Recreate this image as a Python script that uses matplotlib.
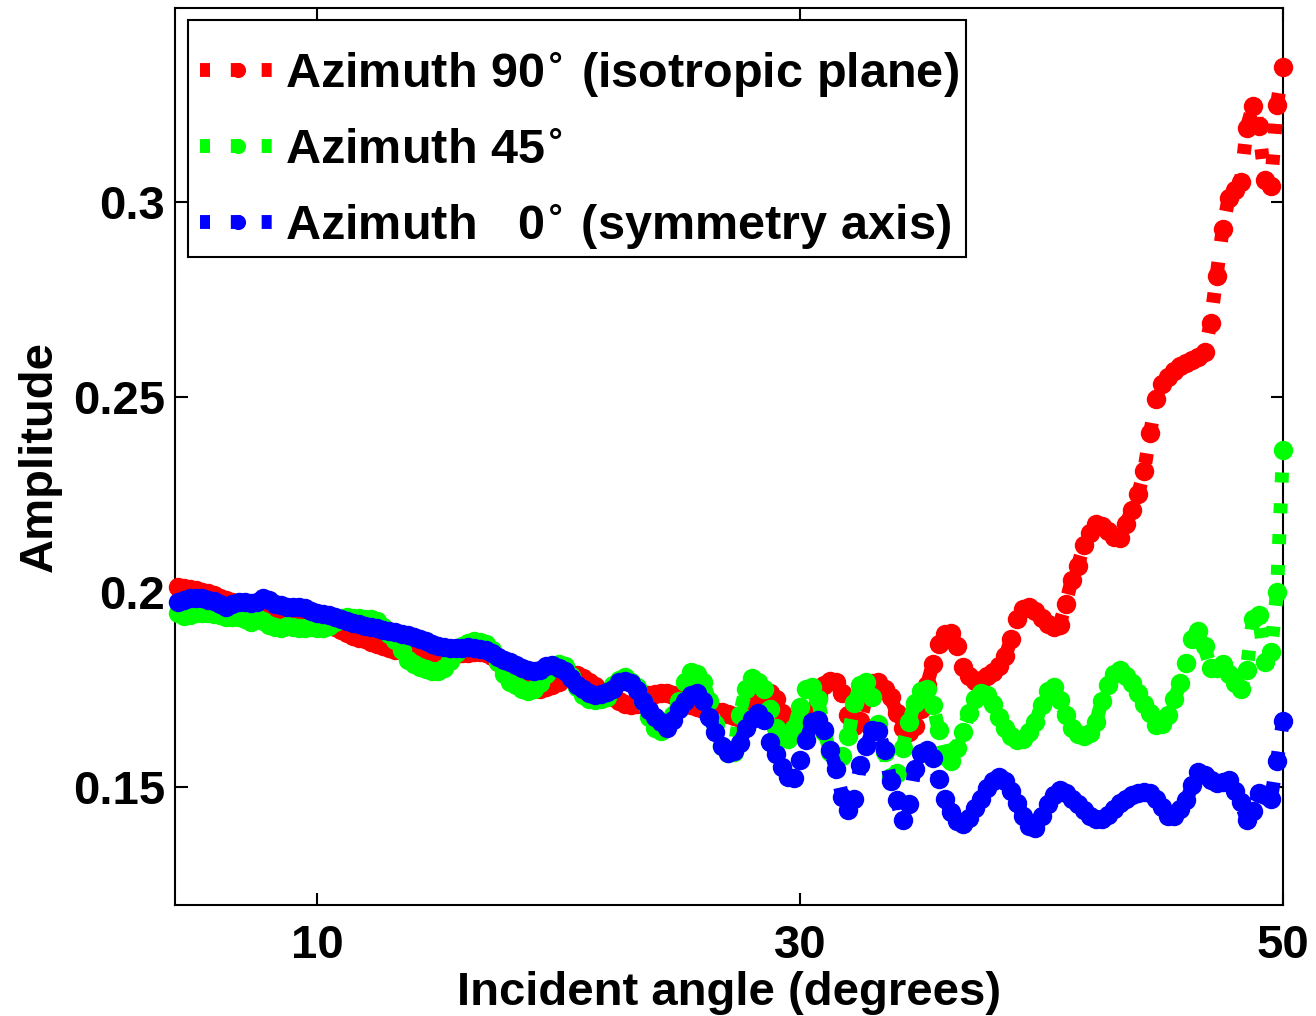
import numpy as np
import matplotlib
matplotlib.use('Agg')
import matplotlib.pyplot as plt
from matplotlib.patches import Rectangle

# ===== 数据 (从图中读取, 入射角步长 0.25 度) =====
angle = np.arange(4.25, 50.001, 0.25)

amp_az90 = [
    0.2012, 0.2010, 0.2008, 0.2005, 0.2000, 0.1996, 0.1992, 0.1985,
    0.1980, 0.1975, 0.1972, 0.1968, 0.1965, 0.1960, 0.1955, 0.1950,
    0.1945, 0.1942, 0.1940, 0.1940, 0.1940, 0.1938, 0.1935, 0.1932,
    0.1925, 0.1918, 0.1910, 0.1903, 0.1895, 0.1888, 0.1882, 0.1878,
    0.1872, 0.1866, 0.1860, 0.1855, 0.1852, 0.1850, 0.1846, 0.1843,
    0.1840, 0.1838, 0.1835, 0.1833, 0.1835, 0.1838, 0.1840, 0.1842,
    0.1844, 0.1845, 0.1845, 0.1843, 0.1835, 0.1820, 0.1808, 0.1800,
    0.1790, 0.1775, 0.1762, 0.1755, 0.1752, 0.1755, 0.1760, 0.1770,
    0.1780, 0.1790, 0.1788, 0.1780, 0.1770, 0.1758, 0.1745, 0.1738,
    0.1730, 0.1720, 0.1712, 0.1710, 0.1713, 0.1725, 0.1735, 0.1738,
    0.1740, 0.1740, 0.1735, 0.1730, 0.1722, 0.1710, 0.1705, 0.1700,
    0.1697, 0.1695, 0.1692, 0.1688, 0.1682, 0.1676, 0.1670, 0.1710,
    0.1730, 0.1745, 0.1740, 0.1725, 0.1690, 0.1665, 0.1645, 0.1650,
    0.1668, 0.1695, 0.1730, 0.1760, 0.1772, 0.1768, 0.1740, 0.1685,
    0.1655, 0.1670, 0.1730, 0.1765, 0.1770, 0.1750, 0.1730, 0.1690,
    0.1650, 0.1640, 0.1655, 0.1700, 0.1760, 0.1815, 0.1865, 0.1893,
    0.1895, 0.1860, 0.1808, 0.1783, 0.1772, 0.1775, 0.1785, 0.1795,
    0.1810, 0.1835, 0.1880, 0.1930, 0.1955, 0.1962, 0.1950, 0.1933,
    0.1918, 0.1910, 0.1915, 0.1970, 0.2030, 0.2065, 0.2120, 0.2150,
    0.2175, 0.2170, 0.2155, 0.2140, 0.2138, 0.2175, 0.2210, 0.2250,
    0.2310, 0.2408, 0.2495, 0.2533, 0.2550, 0.2565, 0.2578, 0.2588,
    0.2595, 0.2602, 0.2615, 0.2690, 0.2810, 0.2930, 0.3010, 0.3030,
    0.3050, 0.3190, 0.3245, 0.3195, 0.3056, 0.3040, 0.3249, 0.3346,
]

amp_az45 = [
    0.1945, 0.1938, 0.1940, 0.1945, 0.1946, 0.1945, 0.1944, 0.1940,
    0.1936, 0.1936, 0.1935, 0.1930, 0.1923, 0.1932, 0.1925, 0.1915,
    0.1910, 0.1908, 0.1912, 0.1910, 0.1907, 0.1908, 0.1910, 0.1908,
    0.1907, 0.1912, 0.1922, 0.1932, 0.1935, 0.1934, 0.1932, 0.1931,
    0.1930, 0.1924, 0.1910, 0.1893, 0.1877, 0.1850, 0.1826, 0.1815,
    0.1807, 0.1802, 0.1797, 0.1796, 0.1805, 0.1822, 0.1842, 0.1860,
    0.1870, 0.1875, 0.1872, 0.1866, 0.1850, 0.1820, 0.1790, 0.1770,
    0.1760, 0.1750, 0.1745, 0.1750, 0.1765, 0.1790, 0.1805, 0.1815,
    0.1810, 0.1785, 0.1755, 0.1735, 0.1725, 0.1722, 0.1725, 0.1730,
    0.1760, 0.1775, 0.1782, 0.1770, 0.1755, 0.1720, 0.1680, 0.1650,
    0.1643, 0.1660, 0.1685, 0.1720, 0.1770, 0.1795, 0.1790, 0.1770,
    0.1720, 0.1660, 0.1605, 0.1587, 0.1590, 0.1685, 0.1750, 0.1780,
    0.1770, 0.1750, 0.1700, 0.1650, 0.1630, 0.1622, 0.1650, 0.1705,
    0.1750, 0.1755, 0.1725, 0.1640, 0.1590, 0.1570, 0.1580, 0.1630,
    0.1715, 0.1762, 0.1768, 0.1730, 0.1660, 0.1590, 0.1525, 0.1535,
    0.1600, 0.1665, 0.1715, 0.1745, 0.1752, 0.1710, 0.1645, 0.1580,
    0.1565, 0.1600, 0.1640, 0.1690, 0.1725, 0.1740, 0.1735, 0.1712,
    0.1680, 0.1650, 0.1630, 0.1620, 0.1622, 0.1640, 0.1665, 0.1710,
    0.1745, 0.1755, 0.1722, 0.1685, 0.1650, 0.1635, 0.1630, 0.1638,
    0.1665, 0.1720, 0.1760, 0.1790, 0.1800, 0.1785, 0.1765, 0.1740,
    0.1712, 0.1690, 0.1658, 0.1660, 0.1685, 0.1725, 0.1765, 0.1818,
    0.1880, 0.1900, 0.1860, 0.1805, 0.1805, 0.1815, 0.1790, 0.1765,
    0.1752, 0.1800, 0.1930, 0.1940, 0.1820, 0.1845, 0.2000, 0.2364,
]

amp_az0 = [
    0.1975, 0.1980, 0.1983, 0.1985, 0.1983, 0.1980, 0.1976, 0.1968,
    0.1962, 0.1970, 0.1975, 0.1975, 0.1972, 0.1975, 0.1983, 0.1978,
    0.1968, 0.1965, 0.1962, 0.1962, 0.1960, 0.1958, 0.1950, 0.1945,
    0.1942, 0.1940, 0.1935, 0.1930, 0.1925, 0.1920, 0.1917, 0.1913,
    0.1910, 0.1906, 0.1902, 0.1899, 0.1896, 0.1893, 0.1890, 0.1885,
    0.1880, 0.1873, 0.1867, 0.1862, 0.1858, 0.1856, 0.1856, 0.1857,
    0.1858, 0.1855, 0.1853, 0.1850, 0.1843, 0.1832, 0.1825, 0.1820,
    0.1812, 0.1805, 0.1800, 0.1796, 0.1800, 0.1810, 0.1812, 0.1805,
    0.1798, 0.1780, 0.1762, 0.1750, 0.1740, 0.1736, 0.1738, 0.1742,
    0.1752, 0.1768, 0.1772, 0.1765, 0.1748, 0.1720, 0.1696, 0.1680,
    0.1665, 0.1652, 0.1672, 0.1700, 0.1720, 0.1735, 0.1740, 0.1720,
    0.1680, 0.1640, 0.1605, 0.1588, 0.1592, 0.1612, 0.1650, 0.1675,
    0.1690, 0.1672, 0.1615, 0.1585, 0.1550, 0.1525, 0.1522, 0.1570,
    0.1620, 0.1665, 0.1672, 0.1645, 0.1595, 0.1545, 0.1475, 0.1440,
    0.1470, 0.1555, 0.1605, 0.1645, 0.1642, 0.1595, 0.1515, 0.1465,
    0.1415, 0.1455, 0.1545, 0.1588, 0.1595, 0.1575, 0.1520, 0.1470,
    0.1435, 0.1412, 0.1405, 0.1420, 0.1445, 0.1470, 0.1498, 0.1515,
    0.1525, 0.1515, 0.1490, 0.1458, 0.1425, 0.1400, 0.1395, 0.1425,
    0.1455, 0.1480, 0.1492, 0.1485, 0.1470, 0.1455, 0.1440, 0.1425,
    0.1418, 0.1418, 0.1428, 0.1443, 0.1458, 0.1468, 0.1478, 0.1485,
    0.1488, 0.1484, 0.1470, 0.1448, 0.1425, 0.1425, 0.1442, 0.1465,
    0.1505, 0.1538, 0.1530, 0.1518, 0.1510, 0.1512, 0.1518, 0.1490,
    0.1460, 0.1416, 0.1438, 0.1485, 0.1480, 0.1468, 0.1565, 0.1670,
]

labels = [r'Azimuth 90$^{\circ}$ (isotropic plane)',
          r'Azimuth 45$^{\circ}$',
          r'Azimuth   0$^{\circ}$ (symmetry axis)']
colors = ['#ff0000', '#00ff00', '#0000ff']

x_ticks = [10, 30, 50]
y_ticks = [0.15, 0.2, 0.25, 0.3]
y_ticklabels = ['0.15', '0.2', '0.25', '0.3']

# ===== 样式 =====
plt.rcParams['font.family'] = ['Liberation Sans', 'DejaVu Sans']
plt.rcParams['font.weight'] = 'bold'
plt.rcParams['axes.labelweight'] = 'bold'
plt.rcParams['font.size'] = 34
plt.rcParams['lines.scale_dashes'] = False

W, H = 1316, 1016
fig = plt.figure(figsize=(W / 100, H / 100), dpi=100)
ax = fig.add_axes([175 / W, 1 - 905 / H, 1108 / W, 897 / H])

for y, c, lab in zip([amp_az90, amp_az45, amp_az0], colors, labels):
    ax.plot(angle, y, color=c, linestyle=(0, (7.2, 15)), linewidth=10,
            marker='o', markersize=14, markeredgewidth=0, label=lab,
            clip_on=False, zorder=3)

ax.set_xlim(4.12, 50)
ax.set_ylim(0.1197, 0.3497)
ax.set_xticks(x_ticks)
ax.set_yticks(y_ticks)
ax.set_yticklabels(y_ticklabels)
ax.tick_params(direction='in', top=True, right=True, length=9, width=1.5)
ax.tick_params(axis='x', pad=14)
ax.tick_params(axis='y', pad=7)
for s in ax.spines.values():
    s.set_linewidth(1.5)

ax.set_xlabel('Incident angle (degrees)', labelpad=2)
ax.set_ylabel('Amplitude', labelpad=8)

# 图例: 内容下移, 边框上方留出角标的空间 (MATLAB 风格)
extra_top = 18   # px
trim_bottom = 7  # px
trim_right = 5   # px
leg = ax.legend(loc='upper left', bbox_to_anchor=(13 / 1108, 1 - 30 / 897),
                borderaxespad=0, handlelength=1.55, handletextpad=0.2,
                labelspacing=0.6, borderpad=0.25, markerscale=0.78,
                frameon=False, fontsize=35)
leg.set_zorder(6)

fig.canvas.draw()
bb = leg.get_window_extent()
frame = Rectangle((bb.x0 / W, (bb.y0 + trim_bottom) / H),
                  (bb.width - trim_right) / W,
                  (bb.height + extra_top - trim_bottom) / H,
                  transform=fig.transFigure, facecolor='white', edgecolor='black',
                  linewidth=1.5, zorder=5, clip_on=False)
ax.add_artist(frame)

fig.savefig('out.png', dpi=100)
